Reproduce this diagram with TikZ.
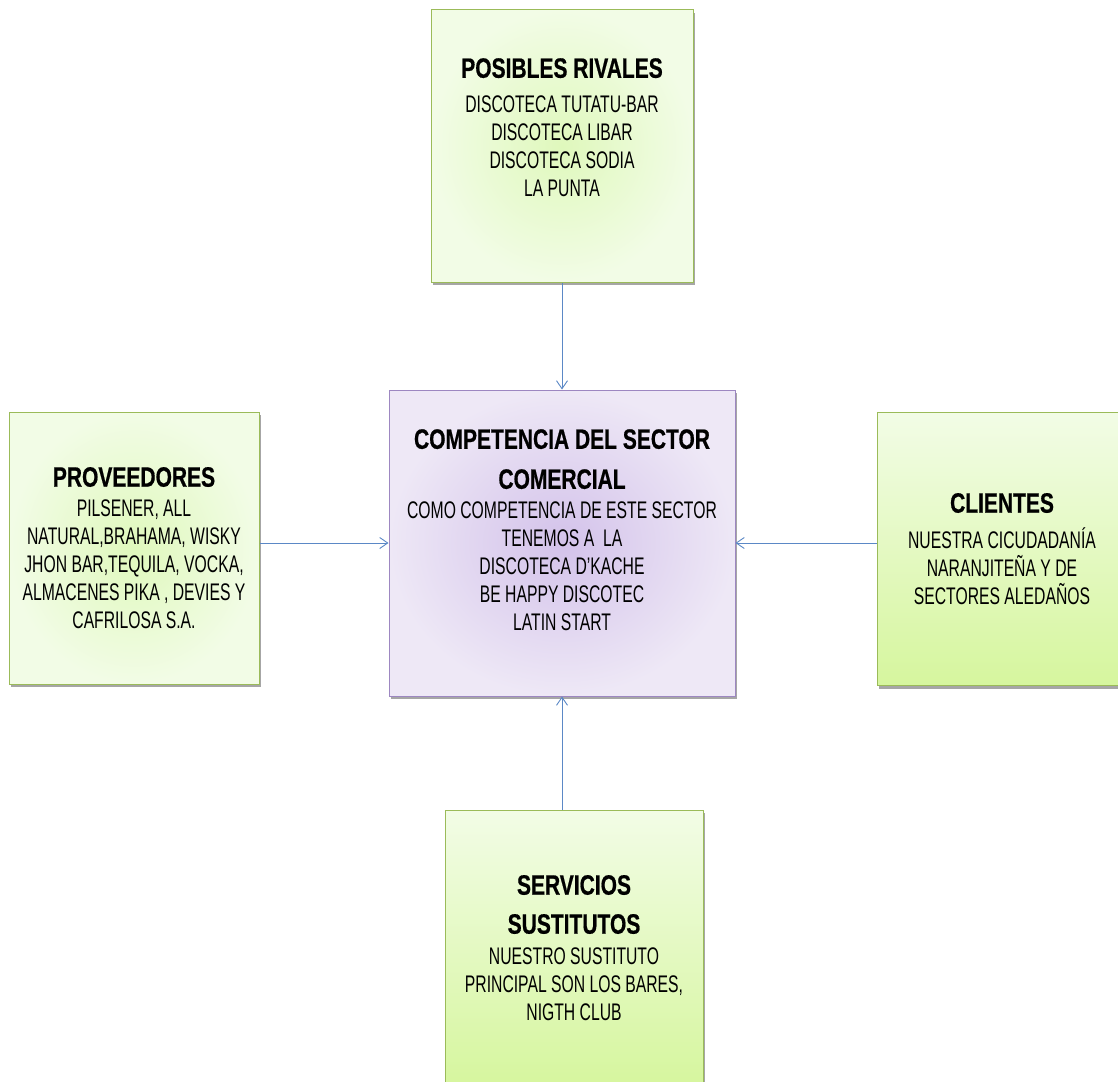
\documentclass[tikz,border=0pt]{standalone}
\usepackage{fontspec}
\setmainfont{Liberation Sans}[FakeStretch=0.655]
\newfontfamily\titlefont{Liberation Sans}[FakeStretch=0.75, BoldFeatures={FakeBold=0.6}]
\usetikzlibrary{positioning,shadows,arrows.meta}

\definecolor{verdeborde}{HTML}{9BBB59}
\definecolor{verdeclaro}{HTML}{F2FCE6}
\definecolor{verdemedio}{HTML}{DFF8BC}
\definecolor{verdefondo}{HTML}{D6F69E}
\definecolor{lilaborde}{HTML}{9D87C1}
\definecolor{lilaclaro}{HTML}{EEE8F6}
\definecolor{lilamedio}{HTML}{D3C2EA}
\definecolor{flecha}{HTML}{5B88C6}

\newcommand{\titulo}[1]{{\titlefont\bfseries\fontsize{28}{40}\selectfont #1}}

\tikzset{
  caja/.style={draw, line width=1pt, align=center, inner sep=4pt,
    font=\fontsize{24}{28}\selectfont,
    drop shadow={shadow xshift=2pt, shadow yshift=-3pt, opacity=0.35, fill=black}},
  cajaverde/.style={caja, draw=verdeborde, shading=radial,
    inner color=verdemedio, outer color=verdeclaro},
  cajaverdeb/.style={caja, draw=verdeborde, top color=verdeclaro, bottom color=verdefondo},
  cajalila/.style={caja, draw=lilaborde, shading=radial,
    inner color=lilamedio, outer color=lilaclaro},
  conector/.style={draw=flecha, line width=0.9pt, -{Straight Barb[length=8pt,width=11pt]}},
}

\begin{document}
\begin{tikzpicture}[x=1pt,y=-1pt]
\fill[white] (0,0) rectangle (1118,1081);
\useasboundingbox (0,0) rectangle (1118,1081);

\node[cajalila, minimum width=346pt, minimum height=306pt, text depth=26pt] (centro) at (562,543)
  {\titulo{COMPETENCIA DEL SECTOR}\\[12pt]\titulo{COMERCIAL}\\[2pt]
   COMO COMPETENCIA DE ESTE SECTOR\\TENEMOS A\ \ LA\\DISCOTECA D'KACHE\\BE HAPPY DISCOTEC\\LATIN START};
\node[cajaverde, above=107pt of centro, minimum width=262pt, minimum height=272pt, text depth=37pt] (rivales)
  {\titulo{POSIBLES RIVALES}\\[7pt]
   DISCOTECA TUTATU-BAR\\DISCOTECA LIBAR\\DISCOTECA SODIA\\LA PUNTA};
\node[cajaverde, left=129pt of centro, yshift=-5pt, minimum width=250pt, minimum height=272pt] (prov)
  {\titulo{PROVEEDORES}\\[2pt]
   PILSENER, ALL\\NATURAL,BRAHAMA, WISKY\\JHON BAR,TEQUILA, VOCKA,\\ALMACENES PIKA , DEVIES Y\\CAFRILOSA S.A.};
\node[cajaverdeb, right=141pt of centro, yshift=-6pt, minimum width=250pt, minimum height=273pt] (clientes)
  {\titulo{CLIENTES}\\[8pt]
   NUESTRA CICUDADANÍA\\NARANJITEÑA Y DE\\SECTORES ALEDAÑOS};
\node[cajaverdeb, below=113pt of centro, xshift=12pt, minimum width=258pt, minimum height=276pt] (sust)
  {\titulo{SERVICIOS}\\[11pt]\titulo{SUSTITUTOS}\\[3pt]
   NUESTRO SUSTITUTO\\PRINCIPAL SON LOS BARES,\\NIGTH CLUB};

% fuerzas hacia el centro
\draw[conector] (rivales) -- (centro);
\draw[conector] (prov.east |- centro) -- (centro.west);
\draw[conector] (clientes.west |- centro) -- (centro.east);
\draw[conector] (sust.north -| centro.south) -- (centro.south);
\end{tikzpicture}
\end{document}
